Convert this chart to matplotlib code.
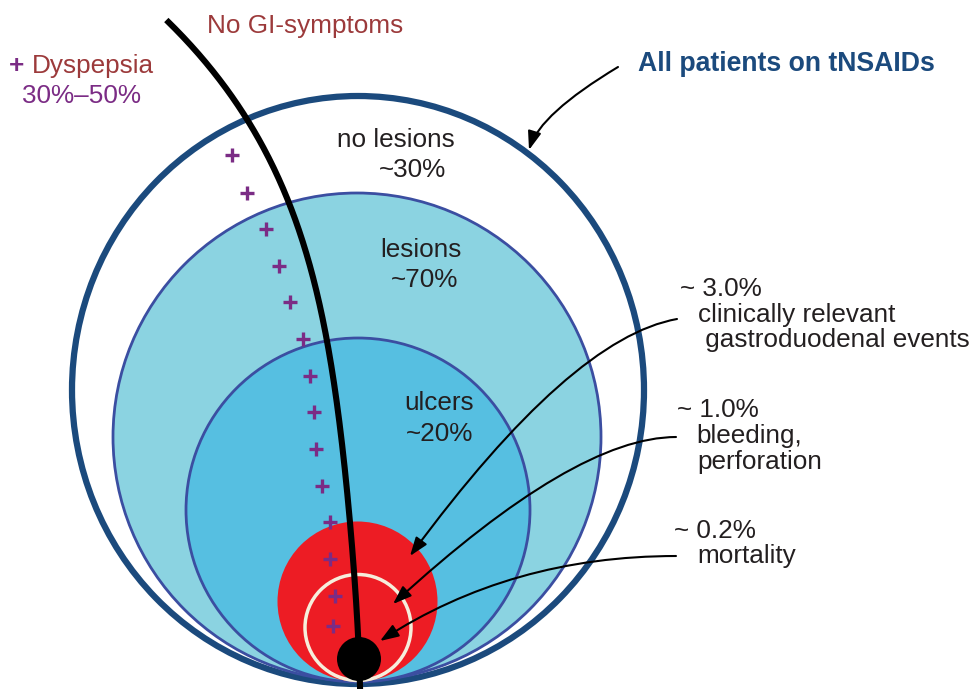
import matplotlib.pyplot as plt
import numpy as np
from matplotlib.patches import Circle, Ellipse

plt.rcParams['font.family'] = ['Liberation Sans', 'DejaVu Sans']

# --- diagram content -------------------------------------------------------
region_names = ["no lesions", "lesions", "ulcers"]
region_shares = ["~30%", "~70%", "~20%"]
event_shares = ["~ 3.0%", "~ 1.0%", "~ 0.2%"]
event_names = [["clinically relevant", " gastroduodenal events"],
               ["bleeding,", "perforation"],
               ["mortality"]]

# "No GI-symptoms" divider (image pixels, y down)
divider_x = [168, 200, 232, 250, 270, 290, 310, 325, 337, 347, 355, 358, 360]
divider_y = [20, 57, 100, 127, 157, 200, 260, 340, 417, 485, 570, 637, 700]

# dyspepsia markers
dyspepsia_x = [232, 247, 266, 279, 290, 303, 310, 314, 316, 322, 330, 330, 335, 333]
dyspepsia_y = [155, 193, 229, 266, 302, 339, 376, 412, 449, 486, 522, 559, 596, 626]

DARK = '#231f20'
NAVY = '#1b4a7d'
EDGE = '#3b4ea1'
BROWN = '#9c3a3b'
PURPLE = '#7b2c85'
FS = 18.8

fig = plt.figure(figsize=(9.73, 6.89), dpi=100)
ax = fig.add_axes([0, 0, 1, 1])
ax.set_xlim(0, 973)
ax.set_ylim(689, 0)
ax.axis('off')

# nested regions, all touching at the bottom
ax.add_patch(Ellipse((358, 390), 572, 588, facecolor='white', edgecolor=NAVY, lw=4.5, zorder=1))
ax.add_patch(Circle((357, 437), 244, facecolor='#8bd3e1', edgecolor=EDGE, lw=2, zorder=2))
ax.add_patch(Circle((358, 510), 172, facecolor='#56bfe1', edgecolor=EDGE, lw=2, zorder=3))
ax.add_patch(Circle((357.5, 601.5), 80, facecolor='#ed1c24', edgecolor='none', zorder=4))
ax.add_patch(Circle((358, 627.5), 53, facecolor='none', edgecolor='#f6eedc', lw=2.5, zorder=5))

# smooth divider: x as a low-order polynomial of y
coef = np.polyfit(divider_y, divider_x, 4)
yy = np.linspace(divider_y[0], divider_y[-1], 400)
ax.plot(np.polyval(coef, yy), yy, color='black', lw=4.4, solid_capstyle='butt', zorder=6)
ax.add_patch(Circle((359, 659), 22, facecolor='black', edgecolor='none', zorder=7))

ax.plot(dyspepsia_x, dyspepsia_y, '+', ms=9.5, mew=2.4, color=PURPLE, zorder=8)

# region labels
ax.text(396, 147, region_names[0], ha='center', va='baseline', fontsize=FS, color=DARK)
ax.text(413, 177, region_shares[0], ha='center', va='baseline', fontsize=FS, color=DARK)
ax.text(421, 257, region_names[1], ha='center', va='baseline', fontsize=FS, color=DARK)
ax.text(425, 287, region_shares[1], ha='center', va='baseline', fontsize=FS, color=DARK)
ax.text(439, 410, region_names[2], ha='center', va='baseline', fontsize=FS, color=DARK)
ax.text(440, 441, region_shares[2], ha='center', va='baseline', fontsize=FS, color=DARK)

# event labels on the right
share_pos = [(680, 296), (677, 417), (674, 538)]
name_pos = [[(698, 322), (698, 347)], [(696, 443), (697, 469)], [(697, 563)]]
for share, (sx, sy), names, positions in zip(event_shares, share_pos, event_names, name_pos):
    ax.text(sx, sy, share, ha='left', va='baseline', fontsize=FS, color=DARK)
    for name, (nx, ny) in zip(names, positions):
        ax.text(nx, ny, name, ha='left', va='baseline', fontsize=FS, color=DARK)

# curved pointers to the red core
pointers = [((410, 556), (677, 319), 10, 53.6),
            ((393, 604), (676, 437), 0, 42.5),
            ((380, 641), (676, 556), 0, 33)]
for tip, start, a_ang, b_ang in pointers:
    ax.annotate('', xy=tip, xytext=start, zorder=9,
                arrowprops=dict(arrowstyle='-|>,head_length=0.75,head_width=0.27',
                                mutation_scale=15, lw=1.5, color='black',
                                shrinkA=0, shrinkB=0,
                                connectionstyle=f'angle3,angleA={a_ang},angleB={b_ang}'))

# header texts
ax.text(207, 33, "No GI-symptoms", ha='left', va='baseline', fontsize=FS, color=BROWN)
ax.text(9, 73, "+", ha='left', va='baseline', fontsize=FS, color=PURPLE, fontweight='bold')
ax.text(32, 73, "Dyspepsia", ha='left', va='baseline', fontsize=FS, color=BROWN)
ax.text(22, 103, "30%\u201350%", ha='left', va='baseline', fontsize=FS, color=PURPLE)
ax.text(638, 71, "All patients on tNSAIDs", ha='left', va='baseline', fontsize=19.2,
        color=NAVY, fontweight='bold')
ax.annotate('', xy=(529, 150), xytext=(618, 67), zorder=9,
            arrowprops=dict(arrowstyle='-|>,head_length=0.75,head_width=0.27',
                            mutation_scale=15, lw=1.5, color='black',
                            shrinkA=0, shrinkB=0,
                            connectionstyle='angle3,angleA=31,angleB=73'))

fig.savefig('out.png', dpi=100)
